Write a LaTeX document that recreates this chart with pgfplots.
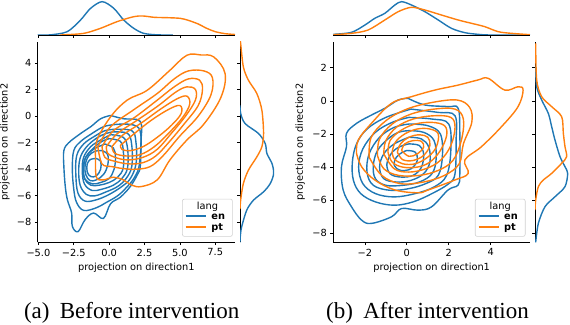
\documentclass[border=0pt]{standalone}
\usepackage{fontspec}
\setmainfont{Liberation Serif}
\newfontfamily\djv{DejaVu Sans}
\usepackage{pgfplots}
\pgfplotsset{compat=1.18}
\definecolor{mplblue}{RGB}{31,119,180}
\definecolor{mplorange}{RGB}{255,127,14}
\newcommand\axfont{\djv\fontsize{9.8}{11}\selectfont}
\pgfplotsset{
  jp/.style={scale only axis, anchor=south west, font=\axfont, tick align=outside,
    major tick length=2.9pt, every tick/.style={black, line width=0.66pt},
    axis line style={line width=0.66pt, black}, tick label style={font=\axfont},
    label style={font=\axfont}},
  ct/.style={smooth, tension=0.6, line width=1.4pt, no markers},
  mk/.style={line width=1.4pt, no markers, smooth, tension=0.5},
}
\newcommand\leg{%
  \renewcommand\arraystretch{0.98}%
  \begin{tabular}{@{\hspace{3.3pt}}p{20pt}@{\hspace{5.7pt}}p{21pt}@{}}
  \multicolumn{2}{@{}c@{}}{\makebox[50pt]{lang}}\\
  \textcolor{mplblue}{\rule[3pt]{20pt}{1.4pt}} & \bfseries en\\
  \textcolor{mplorange}{\rule[3pt]{20pt}{1.4pt}} & \bfseries pt
  \end{tabular}}
\begin{document}
\begin{tikzpicture}
\path[use as bounding box] (0,0) rectangle (570pt,324pt);
% ===================== LEFT: main =====================
\begin{axis}[jp, at={(37.7pt,81.7pt)}, width=197.3pt, height=200.6pt,
  xmin=-5.05, xmax=8.9, ymin=-9.5, ymax=5.6, axis lines*=left,
  xtick={-5,-2.5,0,2.5,5,7.5}, xticklabels={−5.0,−2.5,0.0,2.5,5.0,7.5},
  ytick={-8,-6,-4,-2,0,2,4}, yticklabels={−8,−6,−4,−2,0,2,4},
  xlabel={projection on direction1}, ylabel={projection on direction2},
  xlabel style={at={(axis description cs:0.5,-0.125)}, anchor=center},
  ylabel style={at={(axis description cs:-0.166,0.5)}, anchor=center}]
% blue contours
\addplot[ct, mplblue] coordinates {(0.1,0.05) (1.0,-0.2) (2.2,-0.4) (2.25,-2.0) (2.2,-3.8) (2.0,-4.4) (1.5,-5.3) (0.8,-6.1) (0.1,-6.6) (-0.4,-7.7) (-1.1,-7.3) (-1.7,-7.8) (-2.2,-8.7) (-2.6,-8.3) (-2.65,-7.3) (-2.95,-6.3) (-3.1,-5.3) (-3.2,-3.8) (-3.2,-2.6) (-2.85,-2.0) (-2.0,-1.3) (-1.3,-0.8) (-0.6,-0.2) (0.1,0.05)};
\addplot[ct, mplblue] coordinates {(0.3,-0.65) (2.1,-0.9) (2.15,-3.5) (1.8,-4.6) (1.2,-5.4) (0.6,-6.0) (-0.2,-6.5) (-0.9,-6.9) (-1.8,-7.1) (-2.3,-6.5) (-2.5,-5.5) (-2.6,-4.0) (-2.5,-2.6) (-2.0,-1.9) (-1.2,-1.3) (-0.4,-0.8) (0.3,-0.65)};
\addplot[ct, mplblue] coordinates {(0.3,-1.0) (1.6,-1.1) (1.9,-2.0) (1.9,-3.6) (1.5,-4.7) (0.9,-5.3) (0.0,-5.9) (-0.9,-6.3) (-1.7,-6.4) (-2.2,-5.8) (-2.35,-4.5) (-2.3,-3.0) (-1.8,-2.1) (-1.0,-1.5) (-0.3,-1.1) (0.3,-1.0)};
\addplot[ct, mplblue] coordinates {(0.2,-1.2) (1.3,-1.3) (1.6,-2.2) (1.6,-3.8) (1.2,-4.7) (0.6,-5.3) (-0.2,-5.7) (-1.0,-6.0) (-1.6,-5.9) (-2.05,-5.2) (-2.15,-4.0) (-2.0,-3.0) (-1.5,-2.2) (-0.8,-1.6) (-0.2,-1.3) (0.2,-1.2)};
\addplot[ct, mplblue] coordinates {(0.1,-1.4) (1.0,-1.6) (1.3,-2.4) (1.3,-3.9) (0.9,-4.7) (0.3,-5.2) (-0.5,-5.5) (-1.2,-5.6) (-1.75,-5.1) (-1.9,-4.1) (-1.8,-3.1) (-1.3,-2.3) (-0.6,-1.8) (0.1,-1.4)};
\addplot[ct, mplblue] coordinates {(0.0,-1.7) (0.8,-1.9) (1.0,-2.6) (1.0,-3.9) (0.6,-4.6) (0.0,-5.0) (-0.7,-5.2) (-1.3,-5.2) (-1.75,-4.7) (-1.85,-3.8) (-1.6,-3.0) (-1.0,-2.3) (-0.5,-1.9) (0.0,-1.7)};
\addplot[ct, mplblue] coordinates {(-0.3,-2.1) (0.3,-2.4) (0.45,-3.1) (0.35,-4.0) (0.0,-4.7) (-0.6,-5.0) (-1.2,-5.1) (-1.7,-4.75) (-1.8,-4.0) (-1.65,-3.1) (-1.1,-2.5) (-0.3,-2.1)};
\addplot[ct, mplblue] coordinates {(-0.5,-2.6) (-0.1,-2.9) (-0.1,-3.7) (-0.4,-4.4) (-0.9,-4.8) (-1.35,-4.85) (-1.65,-4.4) (-1.7,-3.7) (-1.45,-3.0) (-1.0,-2.65) (-0.5,-2.6)};
\addplot[ct, mplblue] coordinates {(-0.9,-3.2) (-0.6,-3.4) (-0.6,-4.0) (-0.9,-4.5) (-1.3,-4.55) (-1.55,-4.2) (-1.55,-3.6) (-1.3,-3.25) (-0.9,-3.2)};
% orange contours
\addplot[ct, mplorange] coordinates {(-0.96,-3.1) (-0.85,-1.8) (0.1,-0.06) (1.27,1.2) (2.7,1.95) (4.3,3.45) (5.5,4.58) (6.5,4.6) (7.4,4.45) (8.2,3.2) (7.9,1.4) (6.7,-0.6) (5.5,-1.8) (4.3,-3.3) (3.4,-4.8) (2.3,-5.3) (1.6,-5.2) (1.0,-4.8) (0.3,-4.6) (-0.4,-4.8) (-0.9,-4.6) (-0.96,-3.1)};
\addplot[ct, mplorange] coordinates {(-0.8,-2.3) (0.1,-0.8) (1.7,0.45) (3.4,1.7) (4.6,2.8) (5.6,3.4) (6.7,3.4) (7.3,2.9) (7.2,1.6) (6.3,0.0) (5.0,-1.5) (3.8,-3.0) (2.9,-3.8) (1.9,-4.0) (1.0,-3.95) (0.2,-3.8) (-0.5,-3.6) (-0.8,-2.3)};
\addplot[ct, mplorange] coordinates {(-0.5,-2.3) (0.3,-1.1) (1.8,-0.1) (3.4,1.2) (4.6,2.2) (5.6,2.8) (6.4,2.7) (6.6,2.0) (6.3,0.8) (5.3,-0.6) (4.2,-2.0) (3.3,-3.0) (2.4,-3.5) (1.4,-3.6) (0.4,-3.4) (-0.3,-3.1) (-0.5,-2.3)};
\addplot[ct, mplorange] coordinates {(-0.2,-2.3) (0.6,-1.3) (2.0,-0.3) (3.5,0.8) (4.7,1.8) (5.5,2.2) (6.1,2.0) (6.1,1.2) (5.4,0.0) (4.4,-1.3) (3.4,-2.5) (2.4,-3.1) (1.3,-3.3) (0.4,-3.1) (-0.1,-2.8) (-0.2,-2.3)};
\addplot[ct, mplorange] coordinates {(0.2,-2.3) (1.0,-1.4) (2.3,-0.5) (3.6,0.5) (4.8,1.3) (5.5,1.5) (5.7,0.9) (5.2,-0.1) (4.2,-1.3) (3.2,-2.3) (2.2,-2.9) (1.2,-3.0) (0.4,-2.8) (0.2,-2.3)};
\addplot[ct, mplorange] coordinates {(0.8,-2.2) (1.8,-1.3) (3.0,-0.3) (4.2,0.5) (5.0,0.8) (5.1,0.2) (4.4,-0.7) (3.4,-1.6) (2.4,-2.3) (1.5,-2.6) (0.9,-2.5) (0.8,-2.2)};
\node[draw=black!18, line width=0.6pt, rounded corners=2pt, fill=white, anchor=south east,
  inner xsep=0pt, inner ysep=2.5pt, font=\axfont, xshift=-2.3pt, yshift=5.6pt] at (rel axis cs:1,0) {\leg};
\end{axis}
% top marginal left
\begin{axis}[jp, at={(37.7pt,289pt)}, width=197.3pt, height=35pt,
  xmin=-5.05, xmax=8.9, ymin=0, ymax=105, axis x line*=bottom, axis y line=none,
  xtick={-5,-2.5,0,2.5,5,7.5}, xticklabels={}]
\addplot[mk, mplblue] coordinates {(-5.05,0) (-4.6,0) (-4.13,0.5) (-2.96,10) (-2.02,45) (-1.31,80) (-0.49,100) (0.33,80) (1.03,45) (1.74,20) (2.44,5) (3.38,0.5) (4.5,0)};
\addplot[mk, mplorange] coordinates {(-3.5,0) (-3.19,0.5) (-1.78,5) (-0.61,20) (0.56,40) (1.74,55) (2.4,57) (3.2,53) (4.08,52) (5.02,50) (5.6,44) (6.3,33) (6.9,20) (7.5,10) (8.2,4) (8.9,1.5)};
\end{axis}
% right marginal left
\begin{axis}[jp, at={(240pt,81.7pt)}, width=34pt, height=200.6pt,
  xmin=0, xmax=101, ymin=-9.5, ymax=5.6, axis y line*=left, axis x line=none,
  ytick={-8,-6,-4,-2,0,2,4}, yticklabels={}]
\addplot[mk, mplblue] coordinates {(0,0.8) (2,0.2) (15,-0.56) (55,-1.31) (75,-2.07) (80,-2.82) (95,-3.57) (100,-4.32) (90,-5.07) (70,-5.7) (40,-6.33) (20,-7.08) (5,-8.33) (1,-9.0) (0,-9.5)};
\addplot[mk, mplorange] coordinates {(1,5.6) (2,5.45) (10,3.7) (25,2.7) (50,1.7) (65,0.44) (70,-1.3) (65,-2.3) (50,-3.07) (25,-4.07) (10,-5.07) (2,-6.3) (0,-7.0)};
\end{axis}
% ===================== RIGHT: main =====================
\begin{axis}[jp, at={(333.3pt,81.7pt)}, width=196.7pt, height=200.6pt,
  xmin=-3.51, xmax=5.88, ymin=-8.54, ymax=3.57, axis lines*=left,
  xtick={-2,0,2,4}, xticklabels={−2,0,2,4},
  ytick={-8,-6,-4,-2,0,2}, yticklabels={−8,−6,−4,−2,0,2},
  xlabel={projection on direction1}, ylabel={projection on direction2},
  xlabel style={at={(axis description cs:0.5,-0.125)}, anchor=center},
  ylabel style={at={(axis description cs:-0.169,0.5)}, anchor=center}]
\addplot[ct, mplblue] coordinates {(0.06,0.15) (0.86,-0.25) (1.97,-0.35) (2.45,-0.45) (2.53,-1.96) (2.53,-4.38) (2.45,-5.08) (1.97,-5.38) (1.18,-6.4) (0.54,-6.6) (-0.25,-6.5) (-0.73,-7.0) (-1.69,-7.4) (-2.16,-7.2) (-2.64,-6.4) (-3.04,-5.38) (-3.12,-3.98) (-2.88,-2.77) (-2.88,-1.96) (-2.4,-1.36) (-1.69,-0.86) (-1.05,-0.45) (-0.41,0.05) (0.06,0.15)};
\addplot[ct, mplblue] coordinates {(0.2,-0.5) (1.5,-0.7) (2.3,-0.9) (2.35,-2.5) (2.3,-4.4) (2.0,-5.0) (1.2,-5.6) (0.3,-6.1) (-0.6,-6.3) (-1.5,-6.1) (-2.2,-5.6) (-2.55,-4.8) (-2.6,-3.7) (-2.4,-2.6) (-1.9,-1.7) (-1.0,-1.0) (0.2,-0.5)};
\addplot[ct, mplblue] coordinates {(0.1,-1.0) (1.2,-1.1) (2.0,-1.4) (2.1,-3.0) (1.9,-4.5) (1.3,-5.2) (0.4,-5.6) (-0.6,-5.8) (-1.5,-5.6) (-2.1,-5.0) (-2.3,-4.0) (-2.1,-2.9) (-1.5,-1.9) (-0.7,-1.3) (0.1,-1.0)};
\addplot[ct, mplblue] coordinates {(0.1,-1.4) (1.0,-1.5) (1.6,-2.0) (1.7,-3.3) (1.5,-4.5) (0.9,-5.0) (0.1,-5.3) (-0.8,-5.4) (-1.6,-5.1) (-1.9,-4.3) (-1.8,-3.2) (-1.3,-2.2) (-0.6,-1.6) (0.1,-1.4)};
\addplot[ct, mplblue] coordinates {(0.1,-1.8) (0.8,-1.9) (1.3,-2.4) (1.4,-3.5) (1.2,-4.4) (0.6,-4.9) (-0.2,-5.1) (-1.0,-5.1) (-1.5,-4.7) (-1.6,-3.9) (-1.4,-3.0) (-0.9,-2.3) (-0.4,-1.9) (0.1,-1.8)};
\addplot[ct, mplblue] coordinates {(0.1,-2.2) (0.7,-2.3) (1.05,-2.8) (1.1,-3.7) (0.8,-4.4) (0.2,-4.8) (-0.5,-4.9) (-1.1,-4.7) (-1.3,-4.0) (-1.1,-3.2) (-0.6,-2.6) (0.1,-2.2)};
\addplot[ct, mplblue] coordinates {(0.1,-2.6) (0.6,-2.7) (0.8,-3.2) (0.7,-4.0) (0.3,-4.5) (-0.3,-4.6) (-0.8,-4.4) (-0.95,-3.8) (-0.7,-3.1) (-0.3,-2.75) (0.1,-2.6)};
\addplot[ct, mplblue] coordinates {(0.0,-3.0) (0.4,-3.1) (0.5,-3.6) (0.2,-4.1) (-0.3,-4.2) (-0.6,-3.9) (-0.5,-3.4) (-0.2,-3.1) (0.0,-3.0)};
% orange
\addplot[ct, mplorange] coordinates {(-2.4,-3.17) (-2.32,-2.37) (-1.69,-1.36) (-0.73,-0.15) (0.22,0.25) (1.34,0.65) (2.45,0.95) (3.4,1.26) (3.88,1.36) (4.68,0.65) (5.31,0.85) (5.55,0.65) (5.31,-0.35) (4.52,-1.56) (3.56,-2.77) (2.77,-3.57) (2.93,-4.38) (2.29,-4.78) (1.02,-5.38) (0.54,-5.55) (-0.57,-5.38) (-1.53,-4.78) (-2.16,-3.98) (-2.4,-3.17)};
\addplot[ct, mplorange] coordinates {(-1.8,-3.4) (-1.7,-2.2) (-1.0,-1.2) (0.0,-0.5) (1.2,-0.1) (2.4,0.05) (3.0,-0.4) (3.1,-1.3) (2.7,-2.6) (2.5,-3.8) (1.8,-4.5) (0.8,-4.9) (-0.3,-5.0) (-1.2,-4.5) (-1.8,-3.4)};
\addplot[ct, mplorange] coordinates {(-1.4,-3.3) (-1.3,-2.3) (-0.7,-1.4) (0.2,-0.8) (1.3,-0.5) (2.3,-0.5) (2.7,-1.1) (2.6,-2.4) (2.2,-3.6) (1.5,-4.2) (0.6,-4.5) (-0.4,-4.5) (-1.1,-4.1) (-1.4,-3.3)};
\addplot[ct, mplorange] coordinates {(-1.1,-3.2) (-1.0,-2.4) (-0.5,-1.6) (0.3,-1.1) (1.3,-0.9) (2.1,-1.0) (2.3,-1.6) (2.1,-2.7) (1.6,-3.6) (0.9,-4.1) (0.1,-4.3) (-0.6,-4.1) (-1.1,-3.2)};
\addplot[ct, mplorange] coordinates {(-0.9,-3.1) (-0.8,-2.4) (-0.3,-1.8) (0.4,-1.4) (1.2,-1.3) (1.8,-1.5) (1.9,-2.1) (1.6,-3.0) (1.1,-3.7) (0.5,-4.0) (-0.2,-4.0) (-0.7,-3.7) (-0.9,-3.1)};
\addplot[ct, mplorange] coordinates {(-0.7,-3.1) (-0.55,-2.5) (-0.1,-2.0) (0.5,-1.7) (1.1,-1.7) (1.5,-2.0) (1.4,-2.8) (1.0,-3.4) (0.4,-3.8) (-0.2,-3.8) (-0.6,-3.5) (-0.7,-3.1)};
\addplot[ct, mplorange] coordinates {(-0.45,-3.1) (-0.3,-2.6) (0.1,-2.2) (0.6,-2.05) (1.0,-2.2) (1.1,-2.7) (0.8,-3.3) (0.3,-3.6) (-0.2,-3.55) (-0.45,-3.1)};
\addplot[ct, mplorange] coordinates {(-0.25,-3.0) (-0.1,-2.6) (0.3,-2.4) (0.7,-2.45) (0.8,-2.8) (0.5,-3.2) (0.1,-3.35) (-0.25,-3.0)};
\node[draw=black!18, line width=0.6pt, rounded corners=2pt, fill=white, anchor=south east,
  inner xsep=0pt, inner ysep=2.5pt, font=\axfont, xshift=-4.5pt, yshift=5.6pt] at (rel axis cs:1,0) {\leg};
\end{axis}
% top marginal right
\begin{axis}[jp, at={(333.3pt,289pt)}, width=196.7pt, height=35pt,
  xmin=-3.51, xmax=5.88, ymin=0, ymax=105, axis x line*=bottom, axis y line=none,
  xtick={-2,0,2,4}, xticklabels={}]
\addplot[mk, mplblue] coordinates {(-3.52,2) (-2.64,8) (-2.0,30) (-1.53,50) (-1.05,65) (-0.57,90) (-0.25,100) (0.22,90) (0.86,70) (1.5,45) (2.13,20) (2.77,7) (3.4,2) (4.0,0) (5.88,0)};
\addplot[mk, mplorange] coordinates {(-3.52,1) (-2.64,5) (-1.85,15) (-1.05,45) (-0.41,70) (0.22,83) (0.86,75) (1.65,60) (2.45,45) (3.09,35) (3.72,25) (4.36,10) (4.99,5) (5.87,1)};
\end{axis}
% right marginal right
\begin{axis}[jp, at={(535pt,81.7pt)}, width=34pt, height=200.6pt,
  xmin=0, xmax=102, ymin=-8.54, ymax=3.57, axis y line*=left, axis x line=none,
  ytick={-8,-6,-4,-2,0,2}, yticklabels={}]
\addplot[mk, mplblue] coordinates {(2,2.06) (5,0.85) (20,0.05) (40,-0.76) (50,-1.56) (60,-2.37) (75,-3.37) (90,-3.98) (98,-4.38) (90,-5.18) (60,-5.79) (30,-6.39) (10,-7.4) (2,-8.54)};
\addplot[mk, mplorange] coordinates {(2,3.47) (5,1.26) (20,0.25) (50,-0.35) (80,-0.96) (85,-1.96) (90,-2.77) (95,-3.37) (80,-3.77) (50,-4.38) (25,-4.78) (10,-5.18) (2,-5.99) (0,-6.6)};
\end{axis}
% captions
\node[anchor=base, font=\fontsize{23}{26}\selectfont] at (131.7pt,5.7pt) {(a)\hspace{0.45em}Before intervention};
\node[anchor=base, font=\fontsize{23}{26}\selectfont] at (427.5pt,5.7pt) {(b)\hspace{0.45em}After intervention};
\end{tikzpicture}
\end{document}
